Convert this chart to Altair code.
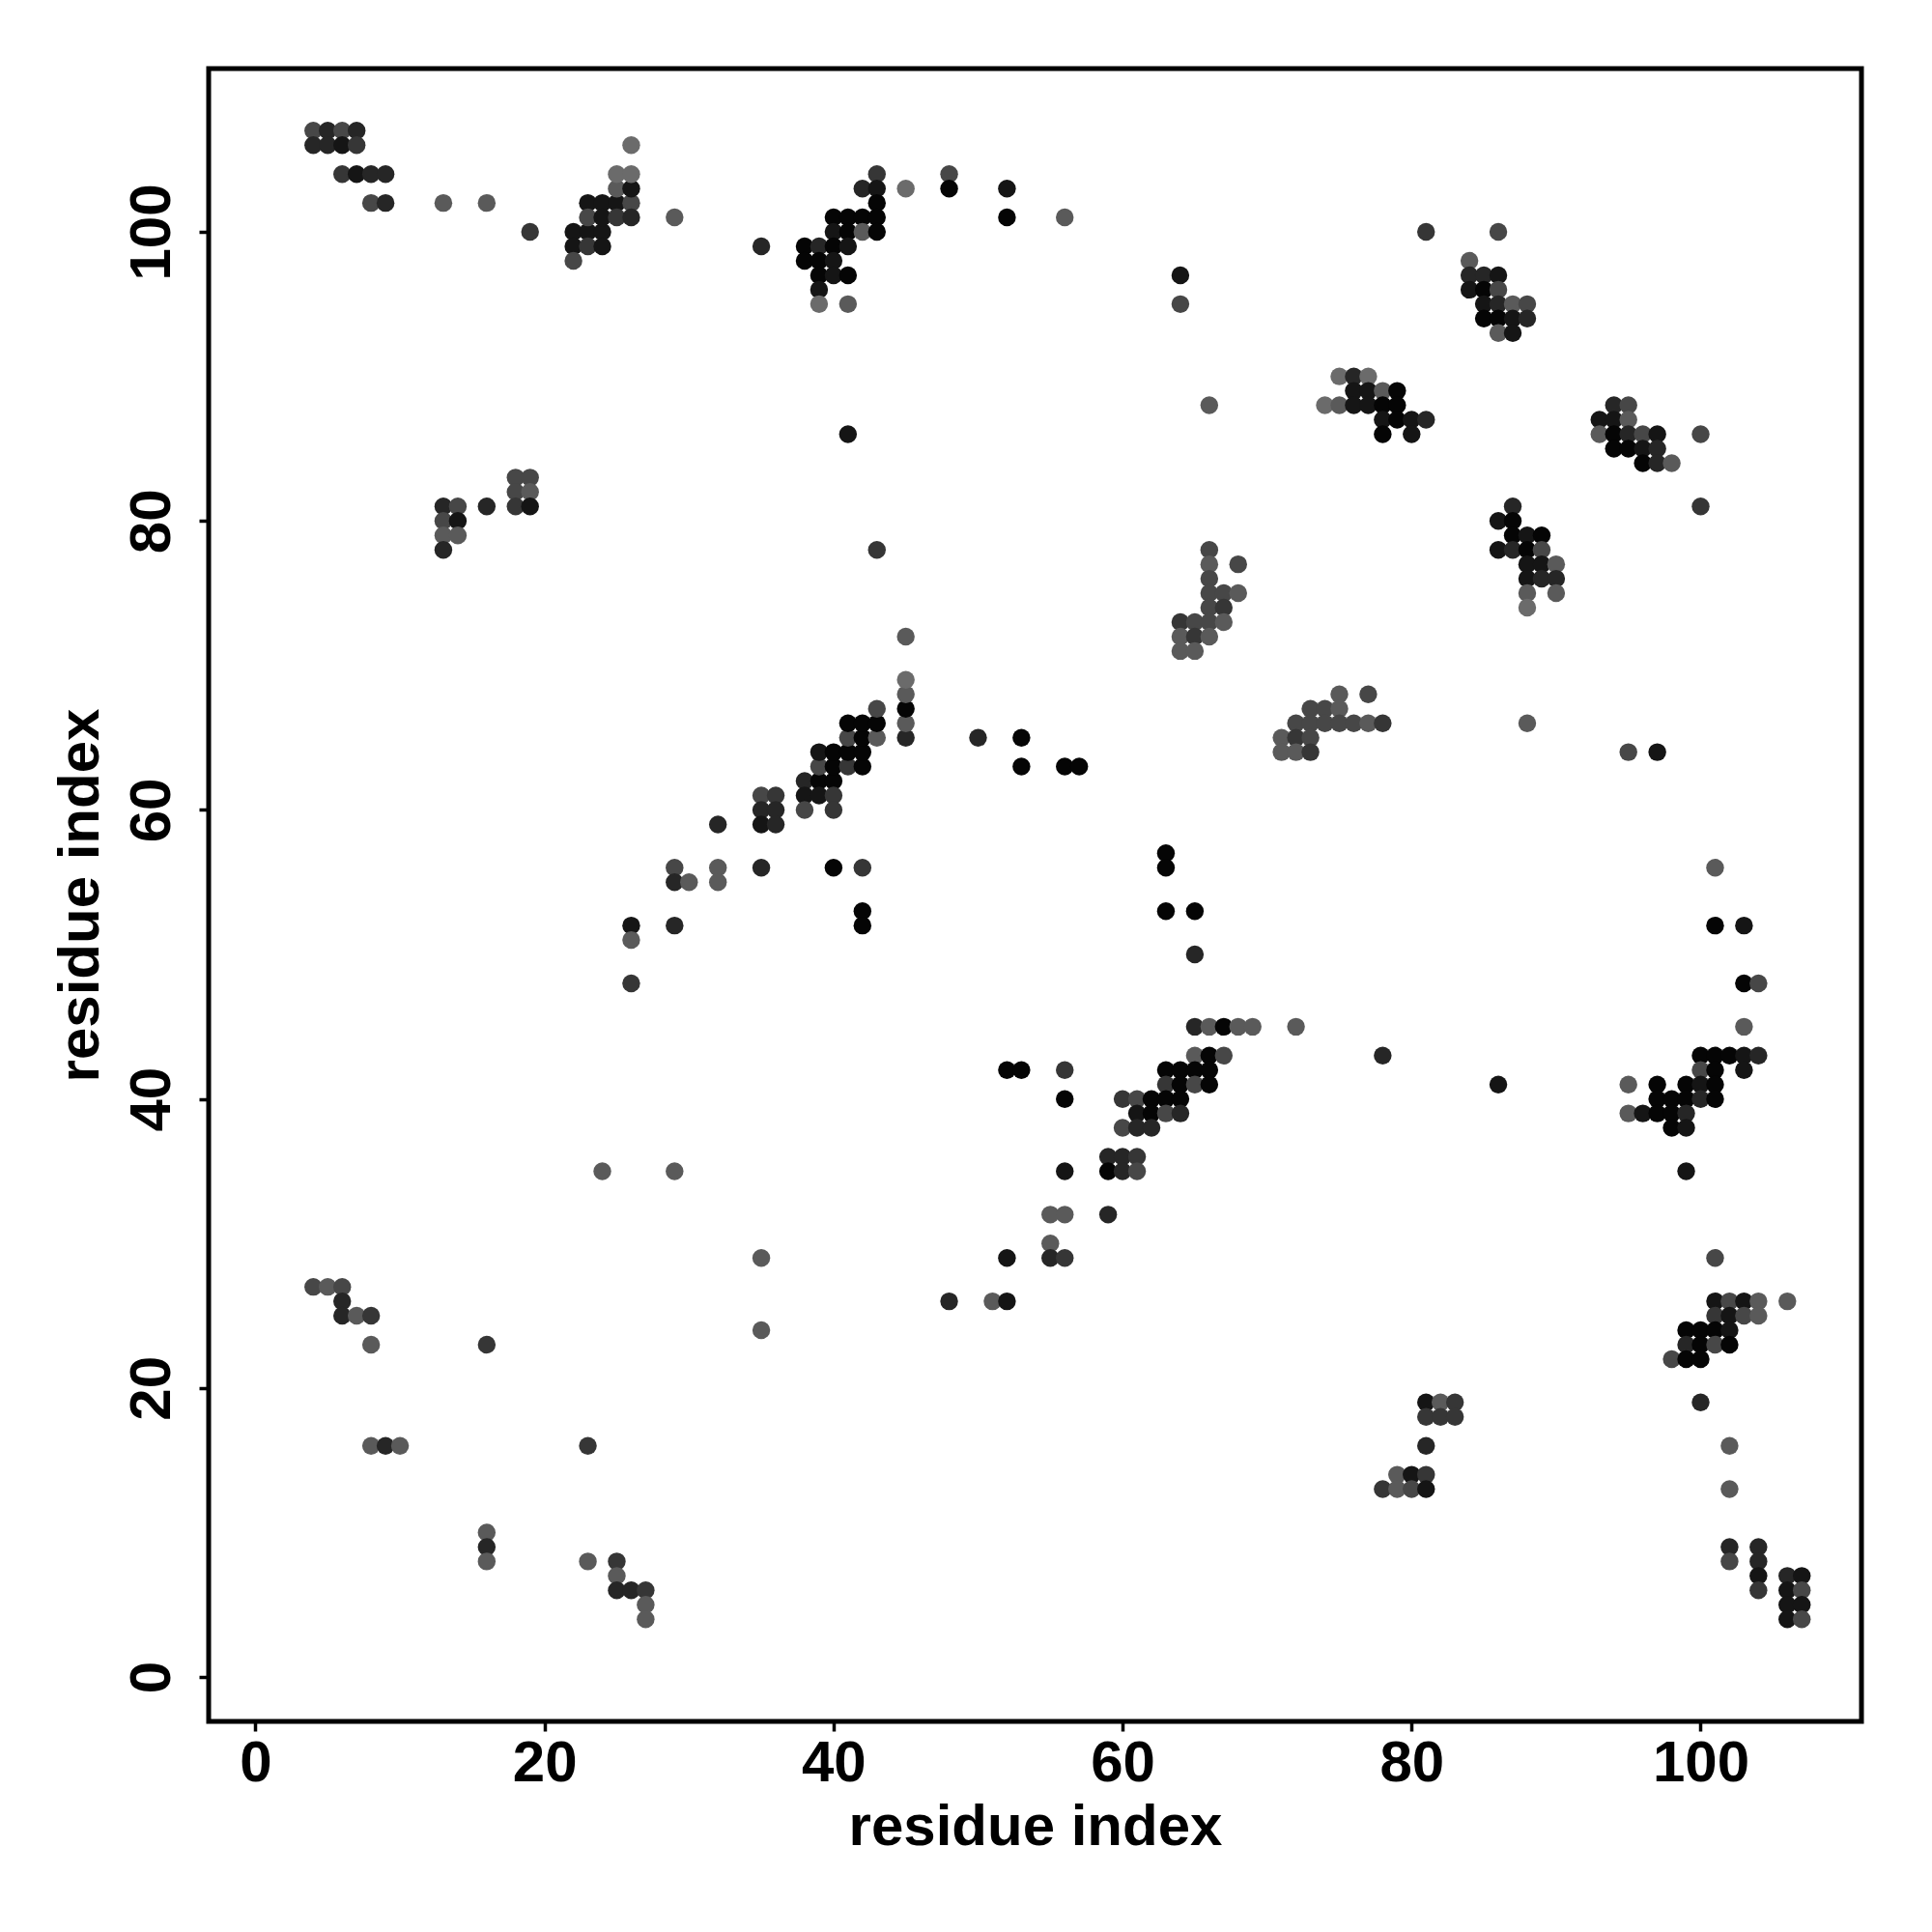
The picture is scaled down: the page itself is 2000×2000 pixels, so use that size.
import altair as alt
import pandas as pd

# residue i (x), residue j (y), shade level (1 = black ... 7 = light gray)
x_top_left = [4, 5, 6, 7, 4, 5, 6, 7, 6, 7, 8, 9, 8, 9, 13, 16, 19]
y_top_left = [107, 107, 107, 107, 106, 106, 106, 106, 104, 104, 104, 104, 102, 102, 102, 102, 100]
s_top_left = [5, 3, 5, 3, 3, 3, 2, 4, 4, 2, 3, 3, 5, 3, 6, 6, 4]

x_g2 = [22, 23, 24, 22, 23, 24, 22, 23, 24, 25, 26, 23, 24, 25, 26, 25, 26, 25, 26, 26, 29]
y_g2 = [100, 100, 100, 99, 99, 99, 98, 102, 102, 102, 102, 101, 101, 101, 101, 103, 103, 104, 104, 106, 101]
s_g2 = [2, 2, 2, 2, 4, 2, 5, 2, 2, 2, 5, 5, 2, 4, 3, 6, 2, 7, 7, 7, 6]

x_g3 = [35, 43, 42, 43, 45, 48, 48, 52, 52, 56, 43, 40, 41, 42, 43, 40, 41, 42, 43,
        38, 39, 40, 41, 38, 39, 40, 39, 40, 41, 39, 39, 41, 41, 43]
y_g3 = [99, 104, 103, 103, 103, 104, 103, 103, 101, 101, 102, 101, 101, 101, 101, 100, 100, 100, 100,
        99, 99, 99, 99, 98, 98, 98, 97, 97, 97, 96, 95, 95, 86, 78]
s_g3 = [3, 4, 3, 2, 7, 5, 1, 2, 1, 6, 1, 1, 1, 1, 1, 2, 1, 6, 1,
        1, 3, 1, 2, 1, 1, 2, 1, 2, 1, 2, 7, 6, 2, 4]

x_g4 = [81, 64, 64, 66, 75, 76, 77, 76, 77, 78, 79, 74, 75, 76, 77, 78, 79, 78, 79, 80, 81, 78, 80]
y_g4 = [100, 97, 95, 88, 90, 90, 90, 89, 89, 89, 89, 88, 88, 88, 88, 88, 88, 87, 87, 87, 87, 86, 86]
s_g4 = [4, 2, 5, 6, 7, 3, 7, 2, 2, 6, 1, 7, 6, 2, 2, 1, 1, 2, 1, 2, 3, 1, 2]

x_g5 = [66, 66, 68, 66, 66, 67, 68, 66, 67, 64, 65, 66, 67, 64, 65, 66, 64, 65]
y_g5 = [78, 77, 77, 76, 75, 75, 75, 74, 74, 73, 73, 73, 73, 72, 72, 72, 71, 71]
s_g5 = [5, 6, 5, 5, 5, 5, 6, 5, 4, 4, 5, 5, 6, 6, 4, 6, 6, 6]

x_g6 = [86, 84, 84, 85, 86, 84, 85, 86, 85, 86, 87, 88, 85, 86, 87, 88, 86, 87]
y_g6 = [100, 98, 97, 97, 97, 96, 96, 96, 95, 95, 95, 95, 94, 94, 94, 94, 93, 93]
s_g6 = [5, 6, 3, 3, 2, 2, 1, 5, 2, 3, 6, 5, 1, 1, 2, 3, 6, 2]

x_g7 = [94, 95, 93, 94, 95, 93, 94, 95, 96, 97, 100, 94, 95, 96, 97, 96, 97, 98, 100]
y_g7 = [88, 88, 87, 87, 87, 86, 86, 86, 86, 86, 86, 85, 85, 85, 85, 84, 84, 84, 81]
s_g7 = [3, 5, 2, 2, 6, 6, 1, 3, 5, 2, 5, 1, 1, 2, 3, 1, 3, 6, 4]

x_g8 = [87, 86, 87, 87, 88, 89, 86, 87, 88, 89, 88, 89, 90, 88, 89, 90, 88, 90, 88]
y_g8 = [81, 80, 80, 79, 79, 79, 78, 78, 78, 78, 77, 77, 77, 76, 76, 76, 75, 75, 74]
s_g8 = [3, 2, 1, 1, 2, 1, 2, 3, 1, 5, 2, 2, 6, 2, 3, 3, 6, 6, 7]

x_g9 = [13, 14, 16, 13, 14, 13, 14, 13, 18, 19, 18, 19, 18, 19]
y_g9 = [81, 81, 81, 80, 80, 79, 79, 78, 83, 83, 82, 82, 81, 81]
s_g9 = [3, 5, 3, 5, 2, 6, 6, 3, 5, 5, 5, 6, 4, 2]

x_g10 = [26, 26, 26, 29, 29, 29, 30, 32, 32, 32, 35, 36, 35, 36, 35, 36, 38, 39, 40, 38, 39, 40,
         38, 40, 39, 40, 41, 42, 39, 40, 41, 42, 41, 42, 43, 45, 41, 42, 43, 45, 43, 45, 45, 45, 45,
         35, 40, 42, 42, 42]
y_g10 = [52, 51, 48, 56, 55, 52, 55, 56, 55, 59, 61, 61, 60, 60, 59, 59, 62, 62, 62, 61, 61, 61,
         60, 60, 63, 63, 63, 63, 64, 64, 64, 64, 65, 65, 65, 65, 66, 66, 66, 66, 67, 67, 68, 69, 72,
         56, 56, 56, 53, 52]
s_g10 = [2, 6, 4, 5, 3, 3, 6, 6, 6, 3, 5, 4, 3, 3, 2, 3, 3, 1, 1, 2, 2, 4,
         5, 4, 5, 1, 4, 1, 2, 1, 1, 1, 5, 1, 6, 3, 1, 1, 1, 6, 5, 1, 6, 7, 6,
         3, 1, 4, 1, 1]

x_g11 = [50, 53, 53, 56, 57, 52, 53, 56, 56, 63, 63, 63, 65, 65]
y_g11 = [65, 65, 63, 63, 63, 42, 42, 42, 40, 57, 56, 53, 53, 50]
s_g11 = [3, 1, 1, 1, 1, 1, 1, 4, 1, 1, 1, 1, 1, 3]

x_g13 = [75, 77, 73, 74, 75, 72, 73, 74, 75, 76, 77, 78, 71, 72, 73, 71, 72, 73]
y_g13 = [68, 68, 67, 67, 67, 66, 66, 66, 66, 66, 66, 66, 65, 65, 65, 64, 64, 64]
s_g13 = [6, 5, 5, 5, 6, 5, 5, 5, 5, 5, 6, 4, 6, 4, 5, 6, 6, 4]

x_g14 = [65, 66, 67, 68, 69, 72, 65, 66, 67, 78, 63, 64, 65, 66, 63, 64, 65, 66,
         60, 61, 62, 63, 64, 61, 62, 63, 64, 60, 61, 62]
y_g14 = [45, 45, 45, 45, 45, 45, 43, 43, 43, 43, 42, 42, 42, 42, 41, 41, 41, 41,
         40, 40, 40, 40, 40, 39, 39, 39, 39, 38, 38, 38]
s_g14 = [3, 6, 1, 6, 6, 6, 6, 1, 5, 3, 1, 1, 1, 1, 4, 1, 5, 1,
         4, 5, 1, 1, 1, 2, 1, 5, 3, 5, 3, 3]

x_g15 = [88, 95, 97, 101, 101, 103, 103, 104, 103, 100, 101, 102, 103, 104, 100, 101, 103,
         86, 95, 97, 99, 100, 101, 97, 98, 99, 100, 101, 95, 96, 97, 98, 99, 98, 99, 99]
y_g15 = [66, 64, 64, 56, 52, 52, 48, 48, 45, 43, 43, 43, 43, 43, 42, 42, 42,
         41, 41, 41, 41, 41, 41, 40, 40, 40, 40, 40, 39, 39, 39, 39, 39, 38, 38, 35]
s_g15 = [6, 5, 2, 6, 1, 2, 1, 5, 6, 1, 1, 1, 2, 3, 5, 1, 2,
         2, 6, 1, 1, 2, 1, 1, 1, 1, 3, 1, 6, 2, 1, 1, 3, 1, 2, 2]

x_g16 = [59, 60, 61, 59, 60, 61, 59, 56, 52, 55, 56, 55, 55, 56, 48, 51, 52, 35, 35, 24, 29]
y_g16 = [36, 36, 36, 35, 35, 35, 32, 35, 29, 32, 32, 30, 29, 29, 26, 26, 26, 29, 24, 35, 35]
s_g16 = [3, 3, 4, 1, 3, 5, 3, 2, 2, 6, 6, 6, 3, 4, 3, 6, 2, 6, 6, 6, 6]

x_g17 = [4, 5, 6, 6, 6, 7, 8, 8, 16, 8, 9, 10, 23, 16, 16, 16, 23, 25, 25, 25, 26, 27, 27, 27]
y_g17 = [27, 27, 27, 26, 25, 25, 25, 23, 23, 16, 16, 16, 16, 10, 9, 8, 8, 8, 7, 6, 6, 6, 5, 4]
s_g17 = [5, 6, 5, 3, 3, 6, 4, 6, 4, 6, 3, 6, 4, 6, 3, 6, 6, 4, 6, 3, 3, 4, 6, 6]

x_g18 = [81, 82, 83, 81, 82, 83, 81, 79, 80, 81, 78, 79, 80, 81]
y_g18 = [19, 19, 19, 18, 18, 18, 16, 14, 14, 14, 13, 13, 13, 13]
s_g18 = [2, 6, 4, 4, 4, 4, 3, 6, 2, 4, 4, 6, 5, 2]

x_g19 = [101, 101, 102, 103, 104, 106, 101, 102, 103, 104, 99, 100, 101, 102, 99, 100, 101, 102,
         98, 99, 100, 100, 102, 102, 102, 102, 104, 104, 104, 104, 106, 106, 106, 106, 107, 107, 107, 107]
y_g19 = [29, 26, 26, 26, 26, 26, 25, 25, 25, 25, 24, 24, 24, 24, 23, 23, 23, 23,
         22, 22, 22, 19, 16, 13, 9, 8, 9, 8, 7, 6, 7, 6, 5, 4, 7, 6, 5, 4]
s_g19 = [5, 2, 5, 2, 6, 6, 4, 2, 5, 6, 1, 1, 1, 2, 3, 1, 5, 1,
         5, 1, 1, 3, 6, 6, 3, 5, 3, 3, 2, 4, 3, 2, 2, 2, 2, 5, 2, 5]

tick_values = [0, 20, 40, 60, 80, 100]
shade_levels = [1, 2, 3, 4, 5, 6, 7]
shade_colors = ["#050505", "#151515", "#262626", "#363636", "#474747", "#5a5a5a", "#6b6b6b"]

groups = [
    (x_top_left, y_top_left, s_top_left), (x_g2, y_g2, s_g2), (x_g3, y_g3, s_g3),
    (x_g4, y_g4, s_g4), (x_g5, y_g5, s_g5), (x_g6, y_g6, s_g6), (x_g7, y_g7, s_g7),
    (x_g8, y_g8, s_g8), (x_g9, y_g9, s_g9), (x_g10, y_g10, s_g10), (x_g11, y_g11, s_g11),
    (x_g13, y_g13, s_g13), (x_g14, y_g14, s_g14), (x_g15, y_g15, s_g15), (x_g16, y_g16, s_g16),
    (x_g17, y_g17, s_g17), (x_g18, y_g18, s_g18), (x_g19, y_g19, s_g19),
]
xs, ys, ss = [], [], []
for gx, gy, gs in groups:
    xs += gx
    ys += gy
    ss += gs
df = pd.DataFrame({"i": xs, "j": ys, "shade": ss})

W = 1711
H = 1711

chart = alt.Chart(df).mark_circle(size=340, opacity=1).encode(
    x=alt.X("i:Q",
            scale=alt.Scale(domain=[-3.24, 111.13], nice=False, zero=False),
            axis=alt.Axis(title="residue index", values=tick_values, labelBaseline="top",
                          labelPadding=4, titleY=127.5, titleBaseline="alphabetic")),
    y=alt.Y("j:Q",
            scale=alt.Scale(domain=[-3.07, 111.3], nice=False, zero=False),
            axis=alt.Axis(title="residue index", values=tick_values, labelAngle=270,
                          labelAlign="center", labelBaseline="alphabetic", labelPadding=31,
                          titleAngle=270, titleX=-115, titleY=H / 2, titleAlign="center",
                          titleBaseline="alphabetic")),
    color=alt.Color("shade:O", scale=alt.Scale(domain=shade_levels, range=shade_colors), legend=None),
).properties(
    width=W, height=H,
    autosize=alt.AutoSizeParams(type="none"),
    padding={"left": 208, "top": 63, "right": 50, "bottom": 190},
    background="white",
).configure_view(
    stroke="black", strokeWidth=5
).configure_axis(
    domain=False, grid=False, ticks=True, tickSize=10, tickWidth=3.5, tickColor="black",
    labelFont="Liberation Sans", labelFontWeight="bold", labelFontSize=60, labelColor="black",
    titleFont="Liberation Sans", titleFontWeight="bold", titleFontSize=60, titleColor="black",
    labelFlush=False, labelOverlap=False,
)

chart.save("out.html", embed_options={"renderer": "svg", "actions": False})
